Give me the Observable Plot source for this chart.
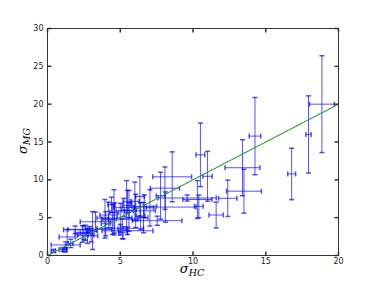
<!DOCTYPE html>
<html><head><meta charset="utf-8">
<script src="https://cdn.jsdelivr.net/npm/d3@7"></script>
<script src="https://cdn.jsdelivr.net/npm/@observablehq/plot@0.6"></script>
<style>body{margin:0;background:#fff} #chart svg{display:block}</style>
</head><body><div id="chart"></div>
<script>
// sigma_HC (x), sigma_MG (y) with symmetric errors
const xs    = [0.4, 1.05, 1.2, 1.25, 1.35, 1.6, 1.9, 2.5, 2.75, 2.4, 2.6, 3.0, 3.3, 3.1, 2.9,
               3.95, 4.2, 4.6, 4.46, 4.57, 4.4, 5.0, 5.14, 5.44, 5.6, 6.0, 5.25, 5.6, 5.5, 6.35,
               6.06, 6.65, 7.04, 6.6, 7.54, 5.5, 5.0, 6.4, 4.0, 5.2,
               8.57, 8.07, 7.77, 8.1, 10.3, 10.51, 11.0, 9.6, 10.4,
               11.59, 12.39, 13.4, 13.5, 14.26, 16.78, 17.94, 18.86];
const ys    = [0.6, 0.8, 0.75, 1.4, 2.45, 1.6, 3.4, 3.0, 2.6, 2.85, 3.0, 2.7, 4.46, 3.3, 3.45,
               4.85, 5.35, 4.95, 4.8, 5.7, 6.7, 4.8, 3.5, 6.6, 5.9, 7.15, 6.36, 6.0, 7.1, 7.8,
               5.9, 6.5, 6.3, 5.0, 4.6, 3.27, 3.6, 5.2, 4.2, 3.0,
               10.4, 8.9, 7.9, 6.4, 7.4, 13.3, 10.47, 7.6, 6.5,
               5.35, 7.56, 11.6, 8.5, 15.78, 10.78, 16.0, 20.0];
const xerrs = [0.15, 0.25, 0.15, 1.0, 0.55, 0.15, 0.8, 0.6, 0.7, 0.3, 0.35, 0.2, 1.05, 0.3, 1.5,
               0.25, 0.6, 1.2, 0.3, 0.3, 0.25, 1.2, 0.3, 0.3, 0.3, 0.3, 0.7, 0.5, 0.3, 0.3,
               1.35, 0.85, 0.25, 0.3, 1.7, 1.75, 1.6, 0.3, 0.3, 0.3,
               1.33, 1.0, 0.3, 2.1, 1.0, 0.3, 0.32, 2.0, 0.3,
               0.49, 0.63, 1.2, 1.2, 0.4, 0.27, 0.18, 0.85];
const yerrs = [0.2, 0.25, 0.3, 0.4, 1.0, 0.55, 0.5, 0.9, 1.0, 1.1, 1.0, 0.9, 1.3, 2.5, 0.4,
               2.55, 1.7, 2.0, 2.0, 3.0, 1.0, 2.1, 1.3, 3.3, 2.7, 2.55, 1.2, 1.0, 1.5, 2.6,
               2.2, 1.5, 2.4, 2.0, 0.6, 0.5, 0.5, 1.8, 1.6, 0.8,
               3.3, 2.8, 3.1, 2.0, 2.5, 4.2, 3.3, 0.4, 1.5,
               1.7, 2.4, 3.7, 2.9, 5.1, 3.4, 5.1, 6.4];
const xTicks = [0, 5, 10, 15, 20];
const yTicks = [0, 5, 10, 15, 20, 25, 30];
const oneToOne = [0, 20];

const data = xs.map((x, i) => ({x, y: ys[i], xe: xerrs[i], ye: yerrs[i]}));

const hcap = {draw(c) { c.moveTo(-2.5, 0); c.lineTo(2.5, 0); }};
const vcap = {draw(c) { c.moveTo(0, -2.5); c.lineTo(0, 2.5); }};
const tUp = {draw(c) { c.moveTo(0, 0); c.lineTo(0, -4); }};
const tDown = {draw(c) { c.moveTo(0, 0); c.lineTo(0, 4); }};
const tRight = {draw(c) { c.moveTo(0, 0); c.lineTo(4, 0); }};
const tLeft = {draw(c) { c.moveTo(0, 0); c.lineTo(-4, 0); }};

const blue = "#0000ff";
const op = 0.68;

const plot = Plot.plot({
  width: 375, height: 283,
  marginLeft: 47, marginRight: 37, marginTop: 28, marginBottom: 28,
  style: {fontFamily: "DejaVu Sans", fontSize: "8px", color: "#222", background: "#fff"},
  x: {domain: [0, 20]},
  y: {domain: [0, 30]},
  marks: [
    Plot.link(data, {x1: d => d.x, x2: d => d.x, y1: d => d.y - d.ye, y2: d => d.y + d.ye, stroke: blue, strokeWidth: 1, strokeOpacity: op}),
    Plot.link(data, {x1: d => d.x - d.xe, x2: d => d.x + d.xe, y1: d => d.y, y2: d => d.y, stroke: blue, strokeWidth: 1, strokeOpacity: op}),
    Plot.dot(data, {x: d => d.x, y: d => d.y + d.ye, symbol: hcap, stroke: blue, strokeOpacity: op, r: 3}),
    Plot.dot(data, {x: d => d.x, y: d => d.y - d.ye, symbol: hcap, stroke: blue, strokeOpacity: op, r: 3}),
    Plot.dot(data, {x: d => d.x - d.xe, y: d => d.y, symbol: vcap, stroke: blue, strokeOpacity: op, r: 3}),
    Plot.dot(data, {x: d => d.x + d.xe, y: d => d.y, symbol: vcap, stroke: blue, strokeOpacity: op, r: 3}),
    Plot.line(oneToOne, {x: d => d, y: d => d, stroke: "#2e9a2e", strokeWidth: 1.1, strokeDasharray: "3,1"}),
    Plot.dot(xTicks, {x: d => d, y: 0, symbol: tUp, stroke: "#333", r: 3}),
    Plot.dot(xTicks, {x: d => d, y: 30, symbol: tDown, stroke: "#333", r: 3}),
    Plot.dot(yTicks, {x: 0, y: d => d, symbol: tRight, stroke: "#333", r: 3}),
    Plot.dot(yTicks, {x: 20, y: d => d, symbol: tLeft, stroke: "#333", r: 3}),
    Plot.frame({stroke: "#333", strokeWidth: 1}),
    Plot.axisX(xTicks, {tickSize: 0, tickPadding: 3, label: null}),
    Plot.axisY(yTicks, {tickSize: 0, tickPadding: 4, label: null})
  ]
});

const svg = d3.select(plot);
const xl = svg.append("text")
  .attr("x", 192).attr("y", 273)
  .attr("text-anchor", "middle")
  .attr("font-family", "DejaVu Serif").attr("font-style", "italic").attr("fill", "#000");
xl.append("tspan").attr("font-size", 13).text("σ");
xl.append("tspan").attr("font-size", 9.5).attr("dy", 3).text("HC");

const yl = svg.append("text")
  .attr("transform", "translate(27,141) rotate(-90)")
  .attr("text-anchor", "middle")
  .attr("font-family", "DejaVu Serif").attr("font-style", "italic").attr("fill", "#000");
yl.append("tspan").attr("font-size", 13).text("σ");
yl.append("tspan").attr("font-size", 9.5).attr("dy", 3).text("MG");

document.getElementById("chart").appendChild(plot);
</script>
</body></html>
